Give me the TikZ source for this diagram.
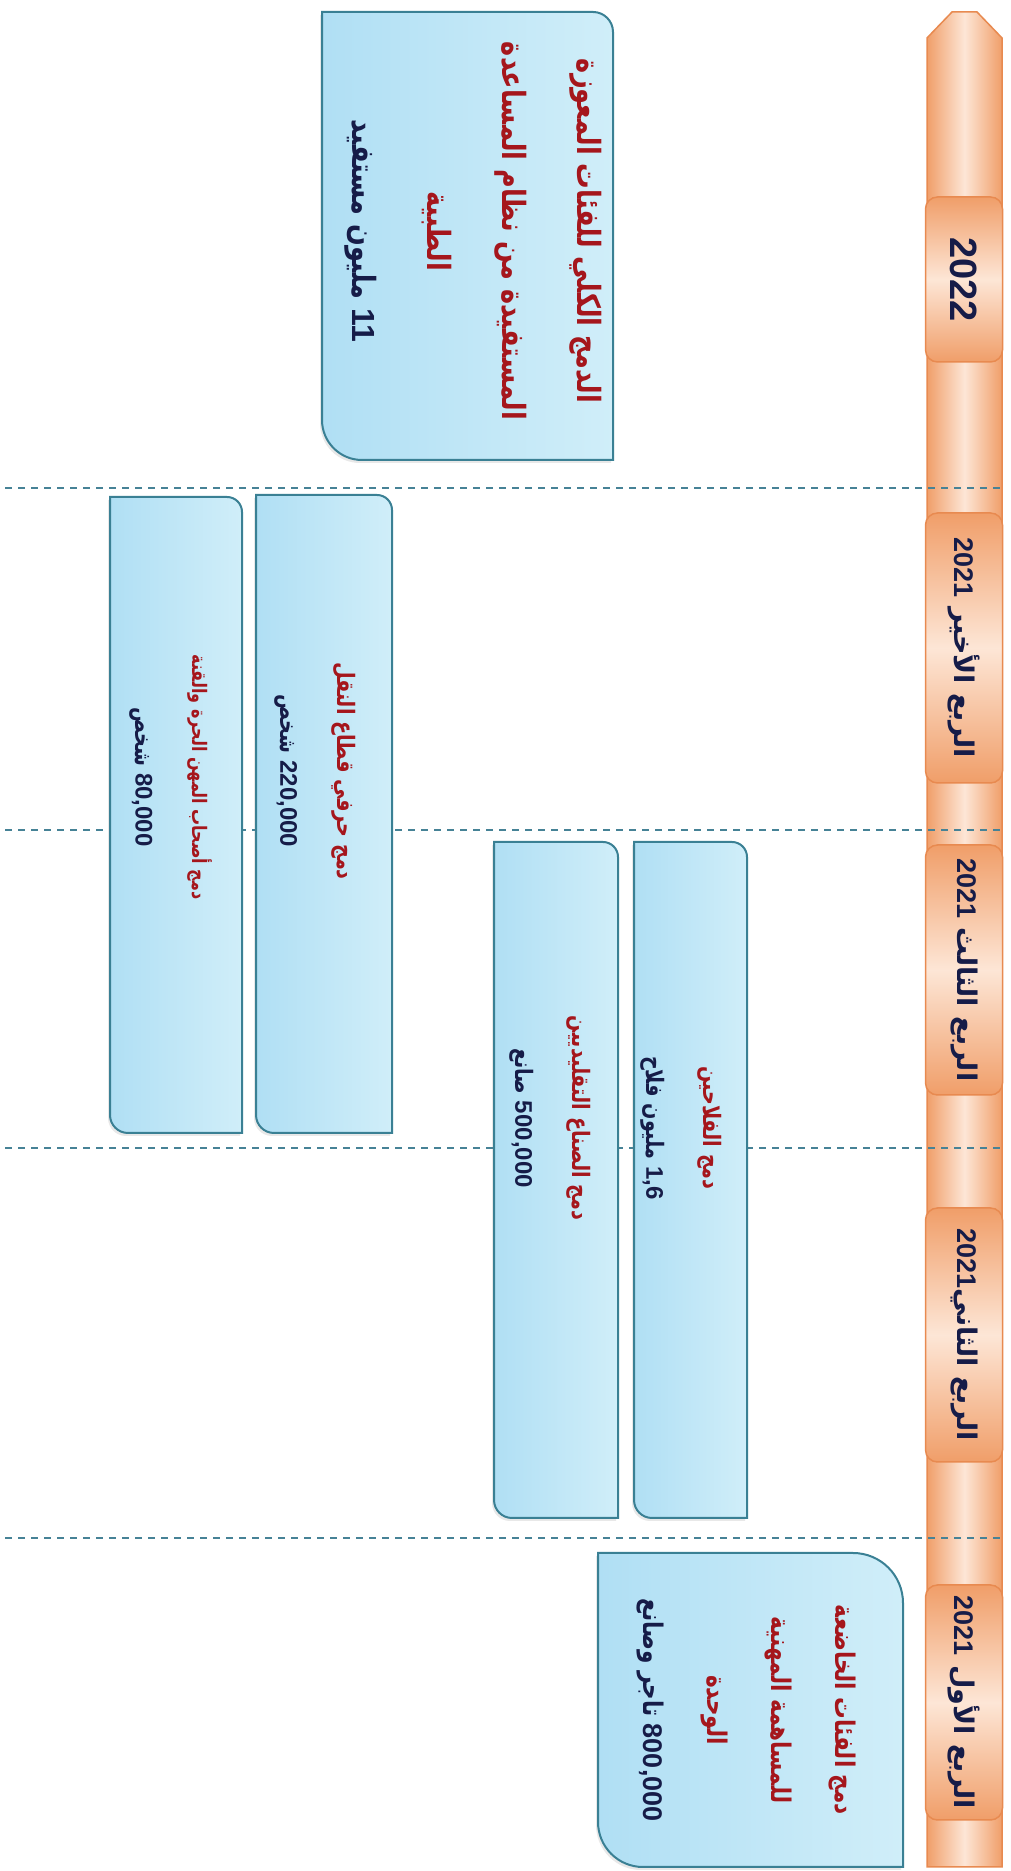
\documentclass[tikz,border=0pt]{standalone}
\usepackage{fontspec}
\TeXXeTstate=1
\newfontfamily\arabicfont[Script=Arabic, FakeStretch=0.8]{DejaVu Sans}
\newfontfamily\arabicwide[Script=Arabic]{DejaVu Sans}
\newfontfamily\numfont{Liberation Sans Bold}
\usetikzlibrary{shadows}

\definecolor{txtred}{RGB}{165,22,28}
\definecolor{txtnavy}{RGB}{22,28,72}
\definecolor{boxedge}{RGB}{58,128,148}
\definecolor{boxdark}{RGB}{176,223,244}
\definecolor{boxlight}{RGB}{208,238,249}
\definecolor{barorange}{RGB}{240,158,105}
\definecolor{barlight}{RGB}{253,230,214}
\definecolor{baredge}{RGB}{232,138,80}
\definecolor{dashcol}{RGB}{70,130,150}

% one right-to-left line, and a run of digits inside it
\newcommand\rtlline[1]{\beginR #1\endR}
\newcommand\numtxt[1]{\beginL{\numfont #1}\endL{}}

% box with rounded top-right and bottom-left corners:
% #1 style, #2 left, #3 right, #4 bottom, #5 top, #6 top-right radius, #7 bottom-left radius
\newcommand\diagbox[7]{%
  \path[#1] (#2,#5) -- ({#3-#6},#5) arc[start angle=90,end angle=0,radius=#6pt]
    -- (#3,#4) -- ({#2+#7},#4) arc[start angle=270,end angle=180,radius=#7pt] -- cycle;}

\begin{document}
\begin{tikzpicture}[x=1pt,y=1pt,
  infobox/.style={draw=boxedge, line width=2pt, left color=boxdark, right color=boxlight,
    drop shadow={shadow xshift=-2pt, shadow yshift=-3pt, opacity=0.18}},
  yearbox/.style={draw=baredge, line width=1.5pt, rounded corners=12pt,
    top color=barorange, bottom color=barorange, middle color=barlight,
    rotate=-90, minimum height=77pt, inner sep=0pt, text=txtnavy,
    font=\arabicwide\bfseries\fontsize{27}{30}\selectfont},
  dashline/.style={draw=dashcol, line width=2pt, dash pattern=on 7pt off 6pt},
  infotext/.style={rotate=-90, align=center, inner sep=0pt, text=txtred},
  bigtext/.style={infotext, font=\arabicfont\bfseries\fontsize{32}{75}\selectfont},
  midtext/.style={infotext, font=\arabicfont\bfseries\fontsize{27}{64}\selectfont},
  smalltext/.style={infotext, font=\arabicfont\bfseries\fontsize{24}{57}\selectfont}]

\useasboundingbox (0,0) rectangle (1011,1871);
\fill[white] (0,0) rectangle (1011,1871);

% timeline bar with its pointed top
\path[left color=barorange, right color=barorange, middle color=barlight,
  draw=baredge, line width=1.5pt]
  (927,4) -- (927,1833) -- (952,1859) -- (977,1859) -- (1002,1833) -- (1002,4) -- cycle;

% quarter separators
\foreach \yy [count=\i] in {1383,1041,723,333}{
  \coordinate (sepL\i) at (5,\yy);
  \coordinate (sepR\i) at (1002,\yy);
  \draw[dashline] (sepL\i) -- (sepR\i);
}

% period labels on the bar
\node[yearbox, minimum width=165pt, font=\numfont\fontsize{38}{40}\selectfont]
  (p2022) at (964,1591.5) {2022};
\node[yearbox, minimum width=270pt] (q4) at (964,1223) {\rtlline{الربع الأخير \numtxt{2021}}};
\node[yearbox, minimum width=250pt] (q3) at (964,901) {\rtlline{الربع الثالث \numtxt{2021}}};
\node[yearbox, minimum width=254pt] (q2) at (964,536) {\rtlline{الربع الثاني\numtxt{2021}}};
\node[yearbox, minimum width=235pt] (q1) at (964,168.5) {\rtlline{الربع الأول \numtxt{2021}}};

% information boxes
\diagbox{infobox}{322}{613}{1411}{1859}{20}{40}
\diagbox{infobox}{256}{392}{738}{1376}{15}{18}
\diagbox{infobox}{110}{242}{738}{1374}{15}{18}
\diagbox{infobox}{634}{747}{353}{1029}{15}{18}
\diagbox{infobox}{494}{618}{353}{1029}{15}{18}
\diagbox{infobox}{598}{903}{4}{318}{50}{45}

% box texts
\node[bigtext] (t2022) at (473,1640) {%
  \rtlline{الدمج الكلي للفئات المعوزة}\\
  \rtlline{المستفيدة من نظام المساعدة}\\
  \rtlline{الطبية}\\
  \textcolor{txtnavy}{\rtlline{\numtxt{11} مليون مستفيد}}};

\node[smalltext] (tnaql) at (315,1100) {%
  \rtlline{دمج حرفي قطاع النقل}\\
  \textcolor{txtnavy}{\rtlline{\numtxt{220,000} شخص}}};

\node[smalltext] (tmihan) at (171,1094) {%
  {\fontsize{20}{57}\selectfont\rtlline{دمج أصحاب المهن الحرة والقنة}}\\
  \textcolor{txtnavy}{\rtlline{\numtxt{80,000} شخص}}};

\node[smalltext] (tfallah) at (681,743) {%
  \rtlline{دمج الفلاحين}\\
  \textcolor{txtnavy}{\rtlline{\numtxt{1,6} مليون فلاح}}};

\node[smalltext] (tsunna) at (550,753) {%
  \rtlline{دمج الصناع التقليديين}\\
  \textcolor{txtnavy}{\rtlline{\numtxt{500,000} صانع}}};

\node[midtext] (tmusahama) at (746.5,161) {%
  \rtlline{دمج الفئات الخاضعة}\\
  \rtlline{للمساهمة المهنية}\\
  \rtlline{الوحدة}\\
  \textcolor{txtnavy}{\rtlline{\numtxt{800,000} تاجر وصانع}}};

\end{tikzpicture}
\end{document}
